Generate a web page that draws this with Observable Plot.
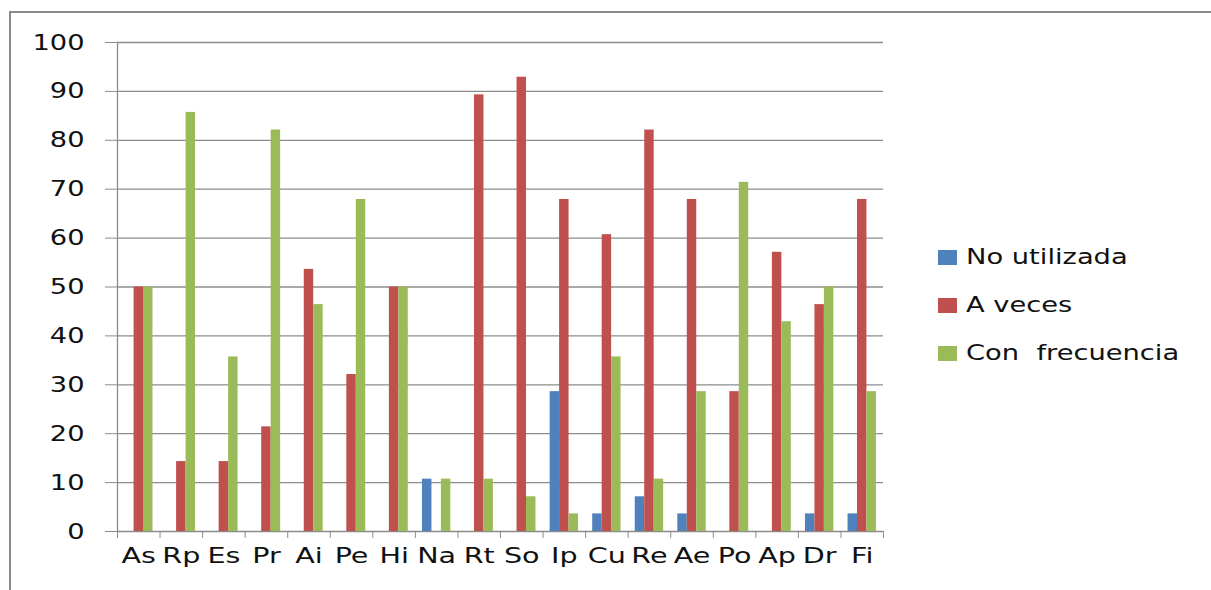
<!DOCTYPE html>
<html>
<head>
<meta charset="utf-8">
<script src="https://cdn.jsdelivr.net/npm/d3@7"></script>
<script src="https://cdn.jsdelivr.net/npm/@observablehq/plot@0.6"></script>
<style>
  html, body { margin: 0; padding: 0; background: #fff; }
  #wrap { position: relative; width: 1211px; height: 590px; overflow: hidden; font-family: "DejaVu Sans", sans-serif; }
  #border { position: absolute; left: 9px; top: 11px; right: -5px; bottom: -5px; border-left: 2px solid #8a8a8a; border-top: 2px solid #8a8a8a; }
  #chart { position: absolute; left: 0; top: 0; }
  #legend { position: absolute; left: 938px; top: 0; }
  .item { position: absolute; left: 0; white-space: pre; font-size: 21px; color: #111; display: flex; align-items: center; }
  .sw { width: 19px; height: 15px; margin-right: 9px; display: inline-block; }
  .lbl { display: inline-block; transform: scaleX(1.3); transform-origin: left center; }
</style>
</head>
<body>
<div id="wrap">
  <div id="border"></div>
  <div id="chart"></div>
  <div id="legend"></div>
</div>
<script>
const categories = ["As","Rp","Es","Pr","Ai","Pe","Hi","Na","Rt","So","Ip","Cu","Re","Ae","Po","Ap","Dr","Fi"];
const seriesNames = ["No utilizada", "A veces", "Con  frecuencia"];
const seriesColors = ["#4F81BD", "#C0504D", "#9BBB59"];
const noUtilizada = [0,0,0,0,0,0,0,10.7,0,0,28.6,3.6,7.1,3.6,0,0,3.6,3.6];
const aVeces = [50,14.3,14.3,21.4,53.6,32.1,50,0,89.3,92.9,67.9,60.7,82.1,67.9,28.6,57.1,46.4,67.9];
const conFrecuencia = [50,85.7,35.7,82.1,46.4,67.9,50,10.7,10.7,7.1,3.6,35.7,10.7,28.6,71.4,42.9,50,28.6];
const yTicks = [0,10,20,30,40,50,60,70,80,90,100];

const seriesValues = [noUtilizada, aVeces, conFrecuencia];
const gap = 1.5; // Excel gap width 150%
const barW = 1 / (seriesNames.length + gap);
const data = [];
seriesValues.forEach((vals, s) => {
  vals.forEach((v, i) => {
    const x1 = i + (gap / 2) * barW + s * barW;
    data.push({cat: categories[i], series: seriesNames[s], x1, x2: x1 + barW, value: v});
  });
});

const plot = Plot.plot({
  width: 900,
  height: 590,
  marginLeft: 117,
  marginRight: 17,
  marginTop: 42,
  marginBottom: 59,
  style: { fontFamily: "DejaVu Sans, sans-serif", background: "transparent", color: "#111" },
  x: { type: "linear", domain: [0, categories.length] },
  y: { domain: [0, 100] },
  color: { domain: seriesNames, range: seriesColors },
  marks: [
    Plot.ruleY(yTicks, { x1: 0, x2: categories.length, stroke: "#8c8c8c", strokeWidth: 1.3 }),
    Plot.ruleX([0], { y1: 0, y2: 100, stroke: "#8c8c8c", strokeWidth: 1.3 }),
    Plot.axisY(yTicks, { tickSize: 12, tickPadding: 21, stroke: "#8c8c8c", fontSize: 22, label: null, tickFormat: d => String(d), className: "yax" }),
    Plot.axisX(d3.range(0, categories.length + 1), { tickSize: 7, tickFormat: () => "", stroke: "#8c8c8c", label: null }),
    Plot.axisX(d3.range(categories.length).map(i => i + 0.5), { tickSize: 0, tickPadding: 16, tickFormat: (d) => categories[Math.floor(d)], fontSize: 22, label: null, className: "xax" }),
    Plot.rectY(data, { x1: "x1", x2: "x2", y: "value", fill: "series" })
  ]
});
document.getElementById("chart").appendChild(plot);

// widen text horizontally like the reference rendering
plot.querySelectorAll("g.yax text").forEach(t => {
  const tr = t.getAttribute("transform") || "";
  t.setAttribute("transform", tr + " scale(1.24,1)");
});
plot.querySelectorAll("g.xax text").forEach(t => {
  const tr = t.getAttribute("transform") || "";
  t.setAttribute("transform", tr + " scale(1.3,1)");
});

const legend = document.getElementById("legend");
const rowY = [257, 305, 353];
seriesNames.forEach((name, i) => {
  const it = document.createElement("div");
  it.className = "item";
  it.style.top = (rowY[i] - 14) + "px";
  it.style.height = "28px";
  const sw = document.createElement("span");
  sw.className = "sw";
  sw.style.background = seriesColors[i];
  const lb = document.createElement("span");
  lb.className = "lbl";
  lb.textContent = name;
  it.appendChild(sw);
  it.appendChild(lb);
  legend.appendChild(it);
});
</script>
</body>
</html>
